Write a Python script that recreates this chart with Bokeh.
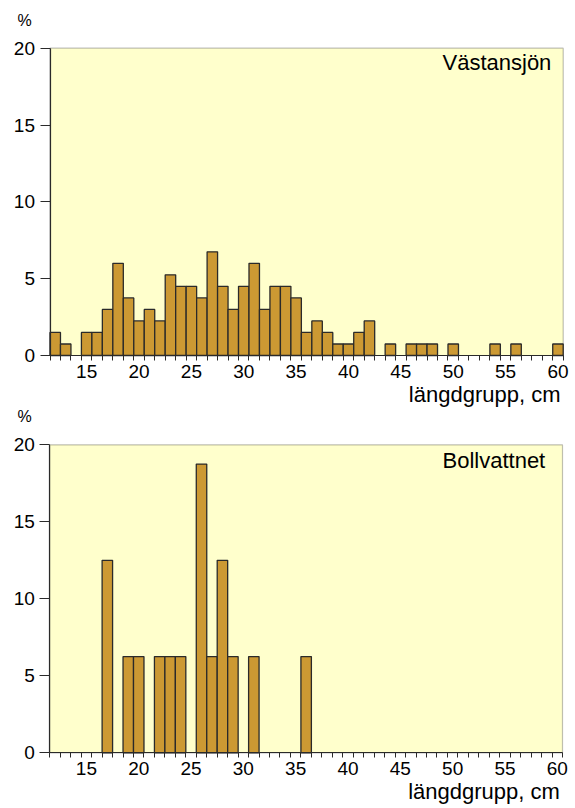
from bokeh.plotting import figure
from bokeh.models import Range1d, FixedTicker, Label, BoxAnnotation
from bokeh.layouts import column
from bokeh.embed import file_html
from bokeh.resources import INLINE

# ---- data ----
vast_len = [12, 13, 15, 16, 17, 18, 19, 20, 21, 22, 23, 24, 25, 26, 27, 28, 29, 30,
            31, 32, 33, 34, 35, 36, 37, 38, 39, 40, 41, 42, 44, 46, 47, 48, 50, 54, 56, 60]
vast_pct = [1.5, 0.75, 1.5, 1.5, 3.0, 6.0, 3.75, 2.25, 3.0, 2.25, 5.25, 4.5, 4.5, 3.75,
            6.75, 4.5, 3.0, 4.5, 6.0, 3.0, 4.5, 4.5, 3.75, 1.5, 2.25, 1.5, 0.75, 0.75,
            1.5, 2.25, 0.75, 0.75, 0.75, 0.75, 0.75, 0.75, 0.75, 0.75]

boll_len = [17, 19, 20, 22, 23, 24, 26, 27, 28, 29, 31, 36]
boll_pct = [12.5, 6.25, 6.25, 6.25, 6.25, 6.25, 18.75, 6.25, 12.5, 6.25, 6.25, 6.25]

x_tick_labels = [15, 20, 25, 30, 35, 40, 45, 50, 55, 60]
y_ticks = [0, 5, 10, 15, 20]
XMIN, XMAX = 11.5, 60.5
YMAX = 20
bin_edges = [v + 0.5 for v in range(11, 61)]

x_label = "längdgrupp, cm"
y_unit = "%"

FONT = "Liberation Sans"
BG = "#FFFFCC"
BAR = "#CC9933"
EDGE = "#2a2a2a"
W = 575
SHIFT = 0.38  # correction of the rendered baseline, in em


def make(lengths, pct, name, H, left_px, right_px, top_px, bottom_px,
         pct_base, name_base, xl_right, xl_base):
    xs = (right_px - left_px) / (XMAX - XMIN)
    ys = (bottom_px - top_px) / YMAX
    x_start = XMIN - left_px / xs
    x_end = XMIN + (W - left_px) / xs
    y_start = -(H - bottom_px) / ys
    y_end = YMAX + top_px / ys

    def dx(px):
        return XMIN + (px - left_px) / xs

    def dy(py, fs):
        return (bottom_px - (py - SHIFT * fs)) / ys

    p = figure(width=W, height=H, x_range=Range1d(x_start, x_end),
               y_range=Range1d(y_start, y_end),
               output_backend="svg", toolbar_location=None, min_border=0)
    p.min_border_left = p.min_border_right = p.min_border_top = p.min_border_bottom = 0
    p.background_fill_color = "white"
    p.border_fill_color = "white"
    p.outline_line_color = None
    p.xgrid.visible = False
    p.ygrid.visible = False

    p.add_layout(BoxAnnotation(left=XMIN, right=XMAX, bottom=0, top=YMAX,
                               fill_color=BG, fill_alpha=1, line_color=EDGE,
                               line_width=1.2, level="underlay"))

    p.vbar(x=lengths, top=pct, width=1, bottom=0, fill_color=BAR,
           line_color=EDGE, line_width=1.3)

    xa = p.xaxis[0]
    xa.fixed_location = 0
    xa.bounds = (XMIN, XMAX)
    xa.ticker = FixedTicker(ticks=x_tick_labels, minor_ticks=bin_edges)
    xa.major_tick_out = 0
    xa.major_tick_in = 0
    xa.minor_tick_out = 5
    xa.minor_tick_in = 0
    xa.axis_line_color = EDGE
    xa.axis_line_width = 1.2
    xa.minor_tick_line_color = EDGE
    xa.major_label_text_font = FONT
    xa.major_label_text_font_size = "19px"
    xa.major_label_text_color = "black"
    xa.major_label_standoff = 4

    ya = p.yaxis[0]
    ya.fixed_location = XMIN
    ya.bounds = (0, YMAX)
    ya.ticker = FixedTicker(ticks=y_ticks)
    ya.major_tick_out = 10
    ya.major_tick_in = 0
    ya.minor_tick_out = 0
    ya.minor_tick_in = 0
    ya.axis_line_color = EDGE
    ya.axis_line_width = 1.2
    ya.major_tick_line_color = EDGE
    ya.major_label_text_font = FONT
    ya.major_label_text_font_size = "19px"
    ya.major_label_text_color = "black"
    ya.major_label_standoff = 5

    p.add_layout(Label(x=dx(24), y=dy(pct_base, 16), text=y_unit, text_font=FONT,
                       text_font_size="16px", text_align="center",
                       text_baseline="alphabetic", text_color="black"))
    p.add_layout(Label(x=dx(442), y=dy(name_base, 22), text=name, text_font=FONT,
                       text_font_size="22px", text_align="left",
                       text_baseline="alphabetic", text_color="black"))
    p.add_layout(Label(x=dx(xl_right), y=dy(xl_base, 22), text=x_label, text_font=FONT,
                       text_font_size="22px", text_align="right",
                       text_baseline="alphabetic", text_color="black"))
    return p


TOP_H = 407
p1 = make(vast_len, vast_pct, "Västansjön", TOP_H, 49.5, 562.7, 47.7, 355.0,
          26.3, 70.7, 560, 402.3)
p2 = make(boll_len, boll_pct, "Bollvattnet", 808 - TOP_H, 49.3, 562.0,
          444.3 - TOP_H, 752.3 - TOP_H,
          422.0 - TOP_H, 468.3 - TOP_H, 559.3, 799.0 - TOP_H)

layout = column(p1, p2, spacing=0)
open("out.html", "w").write(file_html(layout, INLINE))
